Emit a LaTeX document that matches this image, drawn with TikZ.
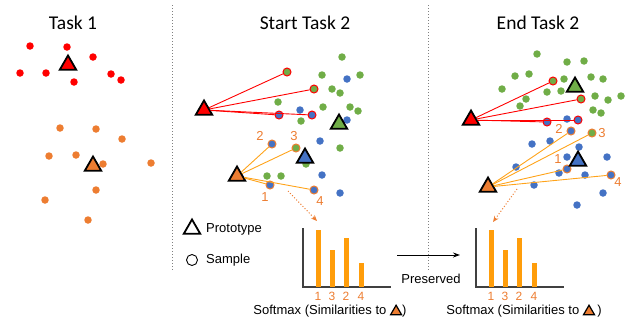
\documentclass[tikz,border=0pt]{standalone}
\usepackage{fontspec}
\setmainfont{Liberation Sans}
\newfontfamily\titlefont{Carlito}
\usetikzlibrary{shapes.geometric,arrows.meta,positioning}

\definecolor{cred}{HTML}{FF0000}
\definecolor{corange}{HTML}{ED7D31}
\definecolor{cgreen}{HTML}{70AD47}
\definecolor{cblue}{HTML}{4472C4}
\definecolor{cline}{HTML}{FFA31A}
\definecolor{cbar}{HTML}{FF9D0A}
\definecolor{caxis}{HTML}{404040}

\tikzset{
  proto/.style={regular polygon,regular polygon sides=3,draw=black,line width=1.8pt,
    fill=#1,minimum size=19pt,inner sep=0pt},
  dot/.style={circle,fill=#1,minimum size=7.5pt,inner sep=0pt},
  samp/.style 2 args={circle,fill=#1,draw=#2,line width=1pt,minimum size=8pt,inner sep=0pt},
  numlab/.style={text=corange,font=\fontsize{13}{15}\selectfont,inner sep=0pt},
  title/.style={font=\titlefont\fontsize{19.5}{22}\selectfont,inner sep=0pt},
}

\newcommand{\tritxt}{\tikz[baseline=0pt,x=1pt,y=1pt]\draw[fill=corange,line width=1.2pt,line join=miter] (0,0)--(11,0)--(5.5,9.5)--cycle;}

\begin{document}
\begin{tikzpicture}[x=1pt,y=-1pt,every node/.style={font=\fontsize{13}{15}\selectfont}]
    \useasboundingbox (0,0) rectangle (628,322);

    %% titles
    \node[title] (t1) at (73,23) {Task 1};
    \node[title] (t2) at (305,23) {Start Task 2};
    \node[title] (t3) at (538,23) {End Task 2};

    %% separators
    \draw[gray,dotted,line width=1pt] (172,5) -- (172,270);
    \draw[gray,dotted,line width=1pt] (428,5) -- (428,270);

    %% task 1
    \foreach \x/\y [count=\i] in {30/46,67/47,93/57,20/73,46/73,74/82,111/74,121/80}
        \node[dot=cred] (ra\i) at (\x,\y) {};
    \foreach \x/\y [count=\i] in {60/128,96/129,122/139,49/156,76/155,103/164,151/163,96/190,45/200,88/220}
        \node[dot=corange] (oa\i) at (\x,\y) {};
    \node[proto=cred] (rpa) at (68,65) {};
    \node[proto=corange] (opa) at (93,166) {};

    %% start task 2
    \foreach \x/\y [count=\i] in {342/57,322/75,360/75,332/89,340/93,278/102,323/107,350/107,358/111,301/121,340/148,306/164,267/176,281/176}
        \node[dot=cgreen] (gb\i) at (\x,\y) {};
    \foreach \x/\y [count=\i] in {347/79,300/110,347/120,320/141,322/175,340/193}
        \node[dot=cblue] (bb\i) at (\x,\y) {};
    \node[samp={cgreen}{cred}] (rsb1) at (287,72) {};
    \node[samp={cgreen}{cred}] (rsb2) at (314,89) {};
    \node[samp={cblue}{cred}] (rsb3) at (279,115) {};
    \node[samp={cblue}{cred}] (rsb4) at (312,115) {};
    \node[samp={cblue}{corange}] (osb1) at (270,185) {};
    \node[samp={cblue}{corange}] (osb2) at (272,144) {};
    \node[samp={cgreen}{corange}] (osb3) at (296,148) {};
    \node[samp={cblue}{corange}] (osb4) at (314,190) {};
    \node[proto=cgreen] (gpb) at (339,124) {};
    \node[proto=cblue] (bpb) at (305,158) {};
    \node[proto=cred] (rpb) at (204,110) {};
    \node[proto=corange] (opb) at (237,176) {};
    \foreach \s in {1,...,4} {
        \draw[cred,line width=0.9pt] (rpb) -- (rsb\s);
        \draw[cline,line width=0.9pt] (opb) -- (osb\s);
    }
    \node[numlab] (lb1) at (265,197) {1};
    \node[numlab] (lb2) at (260,136) {2};
    \node[numlab] (lb3) at (294,136) {3};
    \node[numlab] (lb4) at (320,201) {4};

    %% end task 2
    \foreach \x/\y [count=\i] in {537/54,567/62,584/61,515/76,529/74,564/79,591/77,603/79,502/89,547/92,561/91,595/96,608/100,621/96,526/99,520/106,593/110,601/113}
        \node[dot=cgreen] (gc\i) at (\x,\y) {};
    \foreach \x/\y [count=\i] in {567/119,532/144,550/141,579/147,567/157,607/157,516/167,559/173,585/175,534/185,603/193,577/205}
        \node[dot=cblue] (bc\i) at (\x,\y) {};
    \node[samp={cgreen}{cred}] (rsc1) at (553,81) {};
    \node[samp={cgreen}{cred}] (rsc2) at (581,99) {};
    \node[samp={cblue}{cred}] (rsc3) at (547,122) {};
    \node[samp={cblue}{cred}] (rsc4) at (578,120) {};
    \node[samp={cblue}{corange}] (osc1) at (567,169) {};
    \node[samp={cblue}{corange}] (osc2) at (571,131) {};
    \node[samp={cgreen}{corange}] (osc3) at (592,133) {};
    \node[samp={cblue}{corange}] (osc4) at (611,175) {};
    \node[proto=cgreen] (gpc) at (575,87) {};
    \node[proto=cblue] (bpc) at (578,161) {};
    \node[proto=cred] (rpc) at (471,120) {};
    \node[proto=corange] (opc) at (488,187) {};
    \foreach \s in {1,...,4} {
        \draw[cred,line width=0.9pt] (rpc) -- (rsc\s);
        \draw[cline,line width=0.9pt] (opc) -- (osc\s);
    }
    \node[numlab] (lc1) at (558,159) {1};
    \node[numlab] (lc2) at (559,129) {2};
    \node[numlab] (lc3) at (602,133) {3};
    \node[numlab] (lc4) at (618,182) {4};

    %% legend
    \node[proto=white] (legT) at (192,229) {};
    \node[right=14pt of legT.center,anchor=west,inner sep=0pt] (legTt) {Prototype};
    \node[circle,draw=black,line width=0.9pt,minimum size=11pt,inner sep=0pt] (legS) at (192,260) {};
    \node[right=14pt of legS.center,anchor=west,inner sep=0pt] (legSt) {Sample};

    %% softmax charts
    \begin{scope}[shift={(303,0)}]
        \draw[caxis,line width=1.1pt] (0,228) -- (0,287) -- (88,287);
        \foreach \bx/\bh/\bl in {15/230/1,29/250/3,43/238/2,58/263/4} {
            \fill[cbar] (\bx-2.5,286.5) rectangle (\bx+2.5,\bh);
            \node[numlab,font=\fontsize{12}{14}\selectfont] at (\bx,296) {\bl};
        }
    \end{scope}
    \begin{scope}[shift={(476,0)}]
        \draw[caxis,line width=1.1pt] (0,228) -- (0,287) -- (88,287);
        \foreach \bx/\bh/\bl in {15/230/1,29/250/3,43/238/2,58/263/4} {
            \fill[cbar] (\bx-2.5,286.5) rectangle (\bx+2.5,\bh);
            \node[numlab,font=\fontsize{12}{14}\selectfont] at (\bx,296) {\bl};
        }
    \end{scope}
    \node (capb) at (330,311) {Softmax (Similarities to \tritxt)};
    \node (capc) at (524,311) {Softmax (Similarities to \tritxt\,)};

    %% dotted arrows to charts
    \coordinate (db0) at (288,191);
    \coordinate (db1) at (317,221);
    \coordinate (dc0) at (517,189);
    \coordinate (dc1) at (493,222);
    \draw[corange,dotted,line width=1pt,-{Stealth[length=6pt,width=5pt]}] (db0) -- (db1);
    \draw[corange,dotted,line width=1pt,-{Stealth[length=6pt,width=5pt]}] (dc0) -- (dc1);

    %% preserved
    \coordinate (pa) at (397,255);
    \coordinate (pb) at (460,255);
    \draw[line width=1pt,-{Stealth[length=7pt,width=5pt]}] (pa) -- (pb);
    \node (pres) at (431,279) {Preserved};
\end{tikzpicture}
\end{document}
